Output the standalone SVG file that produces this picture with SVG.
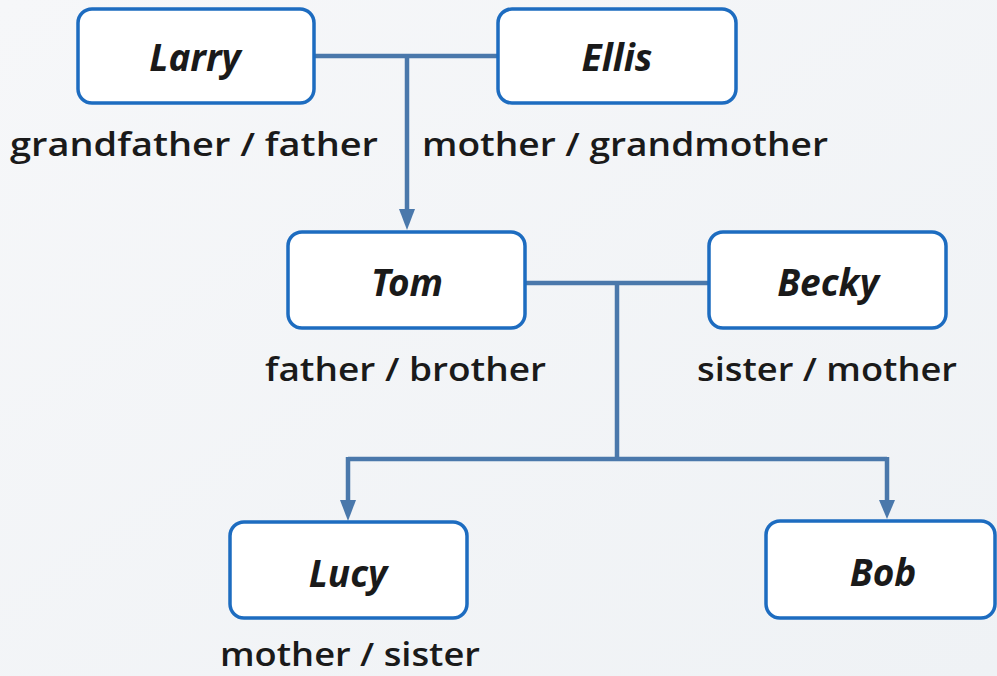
<svg xmlns="http://www.w3.org/2000/svg" width="997" height="676" viewBox="0 0 997 676">
<style>
.box{fill:#ffffff;stroke:#1d6cc0;stroke-width:3.5}
.name{font-family:"Noto Sans","Open Sans","Liberation Sans",sans-serif;font-weight:700;font-style:italic;font-size:37px;fill:#1a1a1a;text-anchor:middle}
.lbl{font-family:"Open Sans","Noto Sans","Liberation Sans",sans-serif;font-weight:600;font-size:32px;fill:#1a1a1a}
.con{fill:none;stroke:#4a78ab;stroke-width:4.5}
.head{fill:#4a78ab}
</style>
<defs>
<linearGradient id="bg" x1="0" y1="0" x2="1" y2="1">
<stop offset="0" stop-color="#f6f7f9"/>
<stop offset="1" stop-color="#eff2f5"/>
</linearGradient>
</defs>
<rect x="0" y="0" width="997" height="676" fill="url(#bg)"/>
<g id="connectors">
<path class="con" d="M314,56 H498"/>
<path class="con" d="M407,56 V209"/>
<path class="head" d="M399,209 L415,209 L407,230 Z"/>
<path class="con" d="M525,283 H709"/>
<path class="con" d="M617,283 V459"/>
<path class="con" d="M348,459 H887"/>
<path class="con" d="M348,457 V500"/>
<path class="head" d="M340,500 L356,500 L348,521 Z"/>
<path class="con" d="M887,457 V500"/>
<path class="head" d="M879,500 L895,500 L887,519 Z"/>
</g>
<g id="larry">
<rect class="box" x="78" y="9" width="236" height="94" rx="14"/>
<text class="name" x="195" y="71">Larry</text>
<text class="lbl" x="10" y="156" textLength="368" lengthAdjust="spacingAndGlyphs">grandfather / father</text>
</g>
<g id="ellis">
<rect class="box" x="498" y="9" width="238" height="94" rx="14"/>
<text class="name" x="617" y="71">Ellis</text>
<text class="lbl" x="422" y="156" textLength="406" lengthAdjust="spacingAndGlyphs">mother / grandmother</text>
</g>
<g id="tom">
<rect class="box" x="288" y="232" width="237" height="96" rx="14"/>
<text class="name" x="407" y="296">Tom</text>
<text class="lbl" x="265" y="381" textLength="281" lengthAdjust="spacingAndGlyphs">father / brother</text>
</g>
<g id="becky">
<rect class="box" x="709" y="232" width="237" height="96" rx="14"/>
<text class="name" x="828" y="296">Becky</text>
<text class="lbl" x="697" y="381" textLength="260" lengthAdjust="spacingAndGlyphs">sister / mother</text>
</g>
<g id="lucy">
<rect class="box" x="230" y="522" width="237" height="96" rx="14"/>
<text class="name" x="348" y="587">Lucy</text>
<text class="lbl" x="220" y="666" textLength="260" lengthAdjust="spacingAndGlyphs">mother / sister</text>
</g>
<g id="bob">
<rect class="box" x="766" y="521" width="229" height="97" rx="14"/>
<text class="name" x="883" y="586">Bob</text>
</g>
</svg>
